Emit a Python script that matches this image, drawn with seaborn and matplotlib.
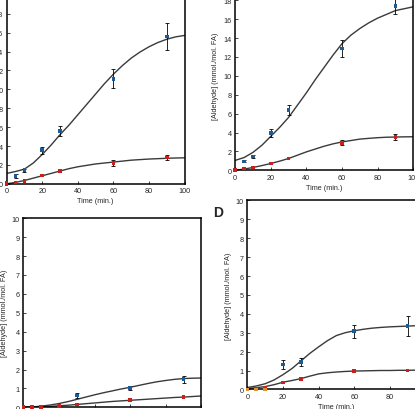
import matplotlib
matplotlib.use("Agg")
import matplotlib.pyplot as plt
import seaborn as sns
import numpy as np

# sampling times of the measured points (min.)
times = [0, 5, 10, 20, 30, 60, 90]
fit_t = [0, 5, 10, 15, 20, 25, 30, 35, 40, 45, 50, 55, 60, 65, 70, 75, 80, 85, 90, 95, 100]

# panel A
a_blue = [0.1, 0.8, 1.45, 3.55, 5.6, 11.1, 15.6]
a_blue_err = [0, 0.2, 0.15, 0.35, 0.5, 1.0, 1.45]
a_red = [0, 0.15, 0.32, 0.89, 1.36, 2.2, 2.8]
a_red_err = [0, 0, 0, 0, 0, 0.3, 0.3]
a_blue_fit = [1.1, 1.3, 1.55, 2.2, 3.1, 4.1, 5.2, 6.2, 7.3, 8.4, 9.5, 10.6, 11.6,
              12.5, 13.3, 13.95, 14.5, 14.95, 15.3, 15.55, 15.7]
a_red_fit = [0, 0.15, 0.35, 0.6, 0.85, 1.1, 1.35, 1.6, 1.8, 1.95, 2.1, 2.2, 2.3,
             2.4, 2.5, 2.56, 2.62, 2.66, 2.7, 2.73, 2.75]

# panel B
b_blue = [0.05, 0.94, 1.47, 3.94, 6.36, 12.9, 17.4]
b_blue_err = [0, 0.1, 0.15, 0.45, 0.53, 0.9, 0.9]
b_red = [0, 0.18, 0.29, 0.73, 1.24, 2.92, 3.5]
b_red_err = [0, 0, 0, 0, 0, 0.25, 0.3]
b_blue_fit = [1.05, 1.35, 1.9, 2.65, 3.6, 4.55, 5.6, 6.9, 8.2, 9.6, 10.9, 12.2, 13.4,
              14.3, 15.0, 15.6, 16.1, 16.5, 16.9, 17.1, 17.3]
b_red_fit = [0, 0.13, 0.3, 0.5, 0.72, 0.97, 1.25, 1.6, 1.95, 2.25, 2.55, 2.8, 3.0,
             3.15, 3.3, 3.38, 3.45, 3.5, 3.52, 3.54, 3.55]

# panel C
c_blue = [0, 0.02, 0.04, 0.1, 0.62, 1.02, 1.49]
c_blue_err = [0, 0, 0, 0, 0.15, 0.1, 0.18]
c_red = [0, 0, 0.02, 0.06, 0.14, 0.37, 0.53]
c_red_err = [0, 0, 0, 0, 0, 0, 0]
c_blue_fit = [0, 0.02, 0.06, 0.12, 0.2, 0.3, 0.42, 0.54, 0.66, 0.77, 0.87, 0.97, 1.06,
              1.16, 1.26, 1.35, 1.42, 1.48, 1.52, 1.54, 1.55]
c_red_fit = [0, 0.01, 0.03, 0.05, 0.08, 0.11, 0.15, 0.19, 0.23, 0.27, 0.31, 0.34, 0.37,
             0.4, 0.43, 0.46, 0.49, 0.52, 0.54, 0.57, 0.6]

# panel D
d_blue = [0, 0.03, 0.05, 1.32, 1.45, 3.08, 3.35]
d_blue_err = [0, 0, 0, 0.24, 0.2, 0.35, 0.55]
d_red = [0, 0.04, 0.07, 0.36, 0.54, 0.97, 1.0]
d_red_err = [0, 0, 0, 0, 0, 0, 0]
d_orange_t = [0, 5, 10]
d_orange = [0, 0, 0]
d_blue_fit = [0.1, 0.18, 0.3, 0.5, 0.78, 1.1, 1.5, 1.9, 2.25, 2.58, 2.85, 3.0, 3.1,
              3.18, 3.24, 3.28, 3.31, 3.33, 3.35, 3.37, 3.38]
d_red_fit = [0.05, 0.09, 0.15, 0.25, 0.38, 0.47, 0.57, 0.7, 0.82, 0.88, 0.92, 0.95, 0.97,
             0.98, 0.99, 1.0, 1.0, 1.01, 1.01, 1.02, 1.02]

BLUE = "#1d5a98"
RED = "#c8201c"
ORANGE = "#e0902c"
CURVE = "#3a3a3a"

sns.set_style("ticks")
plt.rcParams["font.family"] = ["Liberation Sans", "DejaVu Sans"]
plt.rcParams["font.size"] = 5.2

fig = plt.figure(figsize=(4.15, 4.10), dpi=100)

# axes boxes in pixels of the 415x410 picture
W, H = 415.0, 410.0
w, h = 178.0, 189.0


def make_ax(left_px, top_px):
    return fig.add_axes([left_px / W, (H - top_px - h) / H, w / W, h / H])


def points(ax, y, err, color):
    sns.scatterplot(x=times, y=y, ax=ax, color=color, marker="s", s=7,
                    edgecolor="none", clip_on=False, zorder=4)
    t = [ti for ti, e in zip(times, err) if e > 0]
    v = [vi for vi, e in zip(y, err) if e > 0]
    e = [e for e in err if e > 0]
    if e:
        ax.errorbar(t, v, yerr=e, fmt="none", ecolor="black", elinewidth=0.6,
                    capsize=1.4, capthick=0.6, zorder=3)


def panel(ax, blue, blue_err, red, red_err, blue_fit, red_fit, ymax, ystep):
    sns.lineplot(x=fit_t, y=blue_fit, ax=ax, color=CURVE, lw=1.0)
    sns.lineplot(x=fit_t, y=red_fit, ax=ax, color=CURVE, lw=1.0)
    points(ax, blue, blue_err, BLUE)
    points(ax, red, red_err, RED)
    ax.set_xlim(0, 100)
    ax.set_ylim(0, ymax)
    ax.set_xticks(np.arange(0, 101, 20))
    ax.set_yticks(np.arange(0, ymax + 0.01, ystep))
    ax.tick_params(direction="in", length=2.5, width=0.6, pad=2.5, labelsize=5.2)
    for s in ax.spines.values():
        s.set_linewidth(1.1)
        s.set_color("black")
    ax.set_xlabel("Time (min.)", fontsize=5.2, labelpad=2)
    ax.set_ylabel("[Aldehyde] (mmol./mol. FA)", fontsize=5.2, labelpad=3)


ax_a = make_ax(6.6, -4.2)
panel(ax_a, a_blue, a_blue_err, a_red, a_red_err, a_blue_fit, a_red_fit, 20, 2)

ax_b = make_ax(235.2, -17.7)
panel(ax_b, b_blue, b_blue_err, b_red, b_red_err, b_blue_fit, b_red_fit, 20, 2)

ax_c = make_ax(23.4, 219.3)
panel(ax_c, c_blue, c_blue_err, c_red, c_red_err, c_blue_fit, c_red_fit, 10, 1)

ax_d = make_ax(247.4, 201.4)
panel(ax_d, d_blue, d_blue_err, d_red, d_red_err, d_blue_fit, d_red_fit, 10, 1)
sns.scatterplot(x=d_orange_t, y=d_orange, ax=ax_d, color=ORANGE, marker="s", s=7,
                edgecolor="none", clip_on=False, zorder=5)

# panel letters (only D falls inside the cropped picture)
for label, ax in zip("ABCD", [ax_a, ax_b, ax_c, ax_d]):
    ax.text(-0.165, 0.94, label, transform=ax.transAxes, fontsize=10,
            fontweight="bold", ha="center", va="center")

fig.savefig("out.png", dpi=100)
